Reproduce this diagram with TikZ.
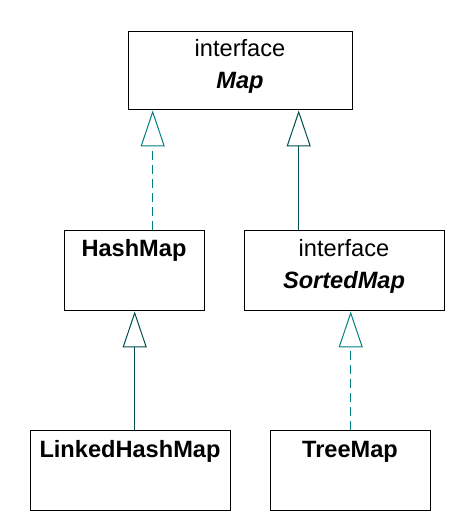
\documentclass[tikz,border=0pt]{standalone}
\usepackage{fontspec}
\setmainfont{Liberation Sans}
\usetikzlibrary{arrows.meta}
\definecolor{tealA}{RGB}{0,128,128}
\definecolor{tealB}{RGB}{0,77,77}
\newcommand\dsize{\fontsize{23.6}{28}\selectfont}
\begin{document}
\begin{tikzpicture}[x=1pt,y=-1pt,
  box/.style={draw=black, line width=1.4pt, rectangle, inner sep=0pt, anchor=north west},
  txt/.style={anchor=base, inner sep=0pt, font=\dsize},
  txtb/.style={anchor=base, inner sep=0pt, font=\dsize\bfseries},
  txtbi/.style={anchor=base, inner sep=0pt, font=\dsize\bfseries\itshape},
  realize/.style={draw=tealA, line width=1pt, dash pattern=on 9pt off 5pt,
    -{Triangle[open, length=36pt, width=24pt]}},
  extend/.style={draw=tealB, line width=1pt,
    -{Triangle[open, length=36pt, width=24pt]}}]
\useasboundingbox (0,0) rectangle (456,522);
% boxes
\node[box, minimum width=224pt, minimum height=78pt] (map) at (128,31) {};
\node[box, minimum width=140pt, minimum height=80pt] (hm) at (64,230) {};
\node[box, minimum width=200pt, minimum height=80pt] (sm) at (244,230) {};
\node[box, minimum width=200pt, minimum height=80pt] (lhm) at (30,430) {};
\node[box, minimum width=160pt, minimum height=80pt] (tm) at (270,430) {};
% texts
\node[txt] (mapI) at (240,56) {interface};
\node[txtbi] (mapN) at (240,88) {Map};
\node[txtb] (hmN) at (134,256) {HashMap};
\node[txt] (smI) at (344,256) {interface};
\node[txtbi] (smN) at (344,288) {SortedMap};
\node[txtb] (lhmN) at (130,457) {LinkedHashMap};
\node[txtb] (tmN) at (350,457) {TreeMap};
% connectors
\draw[realize] ([xshift=18pt]hm.north) -- ([xshift=18pt]hm.north |- map.south);
\draw[extend] ([xshift=-46pt]sm.north) -- ([xshift=-46pt]sm.north |- map.south);
\draw[extend] (lhm.north -| hm.south) -- (hm.south);
\draw[realize] (tm.north) -- (tm.north |- sm.south);
\end{tikzpicture}
\end{document}
